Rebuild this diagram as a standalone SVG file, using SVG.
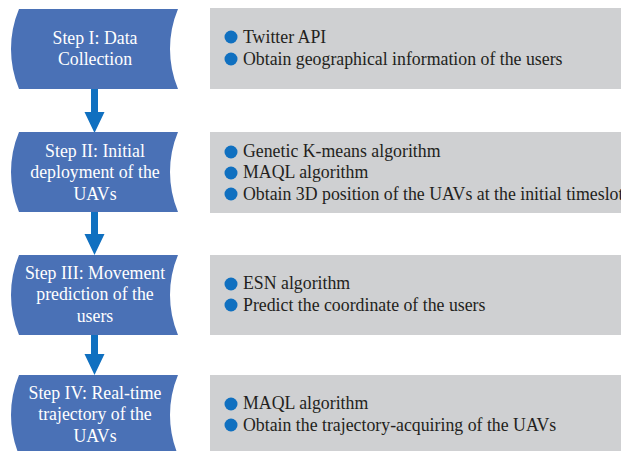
<svg xmlns="http://www.w3.org/2000/svg" width="621" height="451" viewBox="0 0 621 451">
<defs>
<style>
.node{fill:#4A71B6;}
.box{fill:#CFD0D2;}
.nt{font-family:"Liberation Serif","Times New Roman",serif;font-size:17.8px;fill:#FFFFFF;text-anchor:middle;}
.bt{font-family:"Liberation Serif","Times New Roman",serif;font-size:17.8px;fill:#231F20;}
.dot{fill:#1070C0;}
.arrow{fill:#1070C0;}
</style>
</defs>
<rect width="621" height="451" fill="#FFFFFF"/>
<g id="connectors">
<path class="arrow" d="M91,86 L98,86 L98,112 L104.5,112 L94.5,133 L84.5,112 L91,112 Z"/>
<path class="arrow" d="M91,210 L98,210 L98,234 L104.5,234 L94.5,255 L84.5,234 L91,234 Z"/>
<path class="arrow" d="M91,333 L98,333 L98,354 L104.5,354 L94.5,375 L84.5,354 L91,354 Z"/>
</g>
<g id="step1">
<path class="node" d="M19,9 L178,9 A104,104 0 0 0 178,89 L19,89 A104,104 0 0 1 19,9 Z"/>
<text class="nt" x="95" y="44">Step I: Data</text>
<text class="nt" x="95" y="65">Collection</text>
</g>
<g id="step2">
<path class="node" d="M19,132 L178,132 A104,104 0 0 0 178,212 L19,212 A104,104 0 0 1 19,132 Z"/>
<text class="nt" x="95" y="157">Step II: Initial</text>
<text class="nt" x="95" y="178">deployment of the</text>
<text class="nt" x="95" y="200">UAVs</text>
</g>
<g id="step3">
<path class="node" d="M19,255 L178,255 A104,104 0 0 0 178,335 L19,335 A104,104 0 0 1 19,255 Z"/>
<text class="nt" x="95" y="279">Step III: Movement</text>
<text class="nt" x="95" y="300">prediction of the</text>
<text class="nt" x="95" y="322">users</text>
</g>
<g id="step4">
<path class="node" d="M19,375 L178,375 A104,104 0 0 0 178,455 L19,455 A104,104 0 0 1 19,375 Z"/>
<text class="nt" x="95" y="399">Step IV: Real-time</text>
<text class="nt" x="95" y="420">trajectory of the</text>
<text class="nt" x="95" y="442">UAVs</text>
</g>
<g id="detail1">
<rect class="box" x="210" y="8" width="415" height="81"/>
<circle class="dot" cx="231" cy="37" r="6.5"/>
<text class="bt" x="243" y="43">Twitter API</text>
<circle class="dot" cx="231" cy="59" r="6.5"/>
<text class="bt" x="243" y="65">Obtain geographical information of the users</text>
</g>
<g id="detail2">
<rect class="box" x="210" y="132" width="415" height="81"/>
<circle class="dot" cx="231" cy="152" r="6.5"/>
<text class="bt" x="243" y="157">Genetic K-means algorithm</text>
<circle class="dot" cx="231" cy="173" r="6.5"/>
<text class="bt" x="243" y="178">MAQL algorithm</text>
<circle class="dot" cx="231" cy="194" r="6.5"/>
<text class="bt" x="243" y="200">Obtain 3D position of the UAVs at the initial timeslot</text>
</g>
<g id="detail3">
<rect class="box" x="210" y="255" width="415" height="80"/>
<circle class="dot" cx="231" cy="284" r="6.5"/>
<text class="bt" x="243" y="289">ESN algorithm</text>
<circle class="dot" cx="231" cy="305" r="6.5"/>
<text class="bt" x="243" y="311">Predict the coordinate of the users</text>
</g>
<g id="detail4">
<rect class="box" x="210" y="375" width="415" height="80"/>
<circle class="dot" cx="231" cy="404" r="6.5"/>
<text class="bt" x="243" y="409">MAQL algorithm</text>
<circle class="dot" cx="231" cy="425" r="6.5"/>
<text class="bt" x="243" y="431">Obtain the trajectory-acquiring of the UAVs</text>
</g>
</svg>
